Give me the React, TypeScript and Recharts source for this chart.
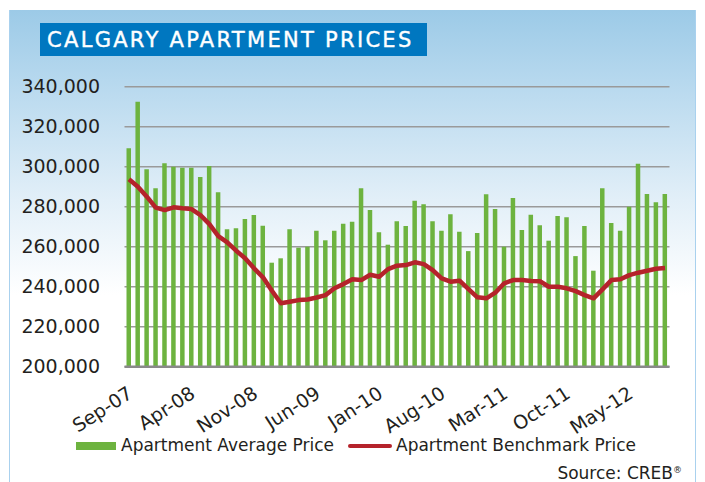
import React from 'react';
import { ComposedChart, Bar, Line, XAxis, YAxis, CartesianGrid } from 'recharts';

const months = [
  'Sep-07','Oct-07','Nov-07','Dec-07',
  'Jan-08','Feb-08','Mar-08','Apr-08','May-08','Jun-08','Jul-08','Aug-08','Sep-08','Oct-08','Nov-08','Dec-08',
  'Jan-09','Feb-09','Mar-09','Apr-09','May-09','Jun-09','Jul-09','Aug-09','Sep-09','Oct-09','Nov-09','Dec-09',
  'Jan-10','Feb-10','Mar-10','Apr-10','May-10','Jun-10','Jul-10','Aug-10','Sep-10','Oct-10','Nov-10','Dec-10',
  'Jan-11','Feb-11','Mar-11','Apr-11','May-11','Jun-11','Jul-11','Aug-11','Sep-11','Oct-11','Nov-11','Dec-11',
  'Jan-12','Feb-12','Mar-12','Apr-12','May-12','Jun-12','Jul-12','Aug-12','Sep-12',
];

const averagePrice = [
  309200, 332500, 298700, 289200, 301700, 300000, 299500, 299500, 294800, 300300,
  287200, 268700, 269200, 273800, 275800, 270500, 252000, 254200, 268700, 259500,
  260000, 268000, 263200, 268000, 271500, 272500, 289200, 278300, 267200, 261000,
  272700, 270300, 283000, 281200, 272700, 268000, 276200, 267500, 257800, 266800,
  286200, 278800, 260000, 284300, 268300, 276000, 270700, 263000, 275300, 274700,
  255300, 270300, 248000, 289200, 271800, 268000, 280000, 301500, 286300, 282200,
  286300,
];

const benchmarkPrice = [
  293700, 290000, 285000, 279500, 278300, 279700, 279200, 278800, 275800, 271300,
  265300, 262200, 258000, 254200, 249200, 244700, 238000, 231700, 232500, 233300,
  233600, 234600, 235800, 239200, 241300, 243700, 243300, 246000, 245000, 248800,
  250500, 250800, 252200, 251300, 248300, 244200, 242500, 243000, 238800, 234700,
  234200, 237000, 241700, 243300, 243300, 242800, 242700, 240000, 240000, 239200,
  237800, 235800, 234200, 238700, 243300, 243700, 245800, 247000, 248000, 249000,
  249300,
];

const yTicks = [200000, 220000, 240000, 260000, 280000, 300000, 320000, 340000];

const data = months.map((m, i) => ({ month: m, avg: averagePrice[i], bench: benchmarkPrice[i] }));

const FONT = '"DejaVu Sans", sans-serif';
const TEXT = '#231f20';
const GREEN = '#6db33f';
const RED = '#b5232b';

const XTick = (props: any) => {
  const { x, y, payload } = props;
  const tx = x + 5;
  const ty = y + 30;
  return (
    <text
      x={tx}
      y={ty}
      transform={`rotate(-33, ${tx}, ${ty})`}
      textAnchor="end"
      fontFamily={FONT}
      fontSize={19}
      fill={TEXT}
    >
      {payload.value}
    </text>
  );
};

export default function App() {
  return (
    <div style={{ position: 'absolute', left: 0, top: 0, width: 705, height: 482, background: '#ffffff', overflow: 'hidden' }}>
      <div
        style={{
          position: 'absolute',
          left: 9,
          top: 10,
          width: 685,
          height: 480,
          borderLeft: '1.5px solid #a9d1ee',
          borderRight: '1.5px solid #a9d1ee',
          background: 'linear-gradient(to bottom, #9ccae7 0px, #b6d8ee 70px, #e2eff8 190px, #ffffff 285px, #ffffff 480px)',
        }}
      />
      <div
        style={{
          position: 'absolute',
          left: 40,
          top: 23,
          width: 387,
          height: 33,
          background: '#0077c0',
        }}
      />
      <div
        style={{
          position: 'absolute',
          left: 47,
          top: 23,
          height: 33,
          lineHeight: '34px',
          color: '#ffffff',
          fontFamily: FONT,
          fontSize: 21,
          letterSpacing: 2.3,
          whiteSpace: 'nowrap',
          WebkitTextStroke: '0.4px #ffffff',
        }}
      >
        CALGARY APARTMENT PRICES
      </div>
      <div style={{ position: 'absolute', left: 0, top: 0 }}>
        <ComposedChart
          width={705}
          height={482}
          data={data}
          margin={{ top: 86.7, right: 35.5, left: 0, bottom: 85.3 }}
          barSize={4.5}
        >
          <CartesianGrid vertical={false} stroke="#9a9a9a" strokeWidth={1.5} />
          <XAxis
            dataKey="month"
            interval={6}
            height={30}
            tickLine={false}
            tickSize={0}
            tickMargin={0}
            axisLine={{ stroke: '#8a8a8a', strokeWidth: 2.5 }}
            tick={<XTick />}
          />
          <YAxis
            width={124.5}
            domain={[200000, 340000]}
            ticks={yTicks}
            axisLine={false}
            tickLine={false}
            tickSize={0}
            tickMargin={24.5}
            tickFormatter={(v: number) => v.toLocaleString('en-US')}
            tick={{ fontFamily: FONT, fontSize: 19, fill: TEXT }}
          />
          <Bar dataKey="avg" fill={GREEN} isAnimationActive={false} />
          <Line
            dataKey="bench"
            type="linear"
            stroke={RED}
            strokeWidth={4.5}
            dot={false}
            activeDot={false}
            strokeLinejoin="round"
            isAnimationActive={false}
          />
        </ComposedChart>
      </div>
      <div style={{ position: 'absolute', left: 76, top: 442, width: 40, height: 8, background: GREEN }} />
      <div
        style={{
          position: 'absolute',
          left: 121,
          top: 435,
          lineHeight: '20px',
          fontFamily: FONT,
          fontSize: 17,
          color: TEXT,
          whiteSpace: 'nowrap',
        }}
      >
        Apartment Average Price
      </div>
      <div style={{ position: 'absolute', left: 348, top: 444, width: 44, height: 4, borderRadius: 2, background: RED }} />
      <div
        style={{
          position: 'absolute',
          left: 396,
          top: 435,
          lineHeight: '20px',
          fontFamily: FONT,
          fontSize: 17,
          color: TEXT,
          whiteSpace: 'nowrap',
        }}
      >
        Apartment Benchmark Price
      </div>
      <div
        style={{
          position: 'absolute',
          right: 23,
          top: 463,
          lineHeight: '20px',
          fontFamily: FONT,
          fontSize: 17,
          color: TEXT,
          whiteSpace: 'nowrap',
        }}
      >
        Source: CREB<sup style={{ fontSize: 9, verticalAlign: 'top', lineHeight: '14px' }}>®</sup>
      </div>
    </div>
  );
}
